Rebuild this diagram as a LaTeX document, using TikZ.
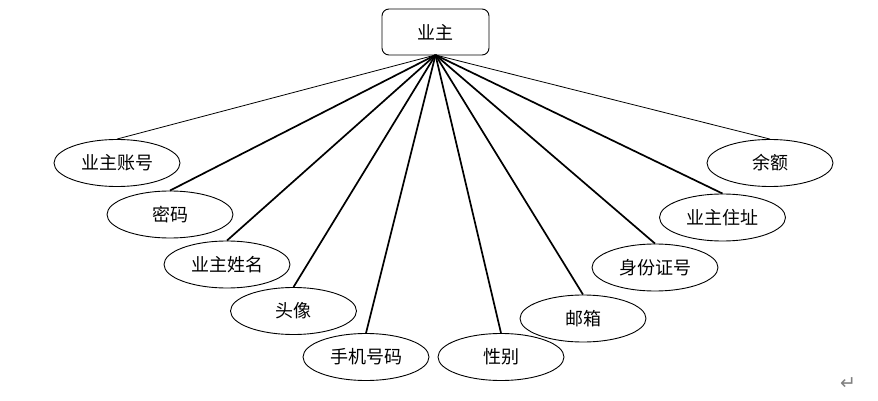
\documentclass[tikz,border=0pt]{standalone}
\usepackage{fontspec}
\newfontfamily\cjk{Noto Sans CJK SC}
\newfontfamily\symf{DejaVu Sans}
\usetikzlibrary{shapes.geometric}
\begin{document}
\begin{tikzpicture}[x=1pt,y=-1pt,
  attr/.style={ellipse,draw,line width=0.9pt,minimum width=126pt,minimum height=47pt,inner sep=0pt,font=\cjk\fontsize{18}{20}\selectfont},
  ent/.style={rectangle,rounded corners=7pt,draw,line width=0.9pt,minimum width=107pt,minimum height=46pt,font=\cjk\fontsize{18}{20}\selectfont},
  thinlink/.style={line width=0.8pt},
  thicklink/.style={line width=1.7pt}]
\useasboundingbox (0,0) rectangle (878,401);
\node[ent] (root) at (435.5,32) {业主};
\coordinate (hub) at (435.5,55);
\node[attr] (a1) at (117,163) {业主账号};
\node[attr] (a2) at (170,214.5) {密码};
\node[attr] (a3) at (227,264.5) {业主姓名};
\node[attr] (a4) at (293.5,311) {头像};
\node[attr] (a5) at (366,357) {手机号码};
\node[attr] (a6) at (501,357) {性别};
\node[attr] (a7) at (583,318.5) {邮箱};
\node[attr] (a8) at (655,267.5) {身份证号};
\node[attr] (a9) at (722.5,217.5) {业主住址};
\node[attr] (a10) at (770,163) {余额};
\draw[thinlink] (hub) -- (a1.north);
\foreach \n in {a2,a3,a4,a5,a6,a7,a8,a9}{\draw[thicklink] (hub) -- (\n.north);}
\draw[thinlink] (hub) -- (a10.north);
\node[font=\symf\fontsize{19}{20}\selectfont,text=gray] (pm) at (848,384) {↵};
\end{tikzpicture}
\end{document}
